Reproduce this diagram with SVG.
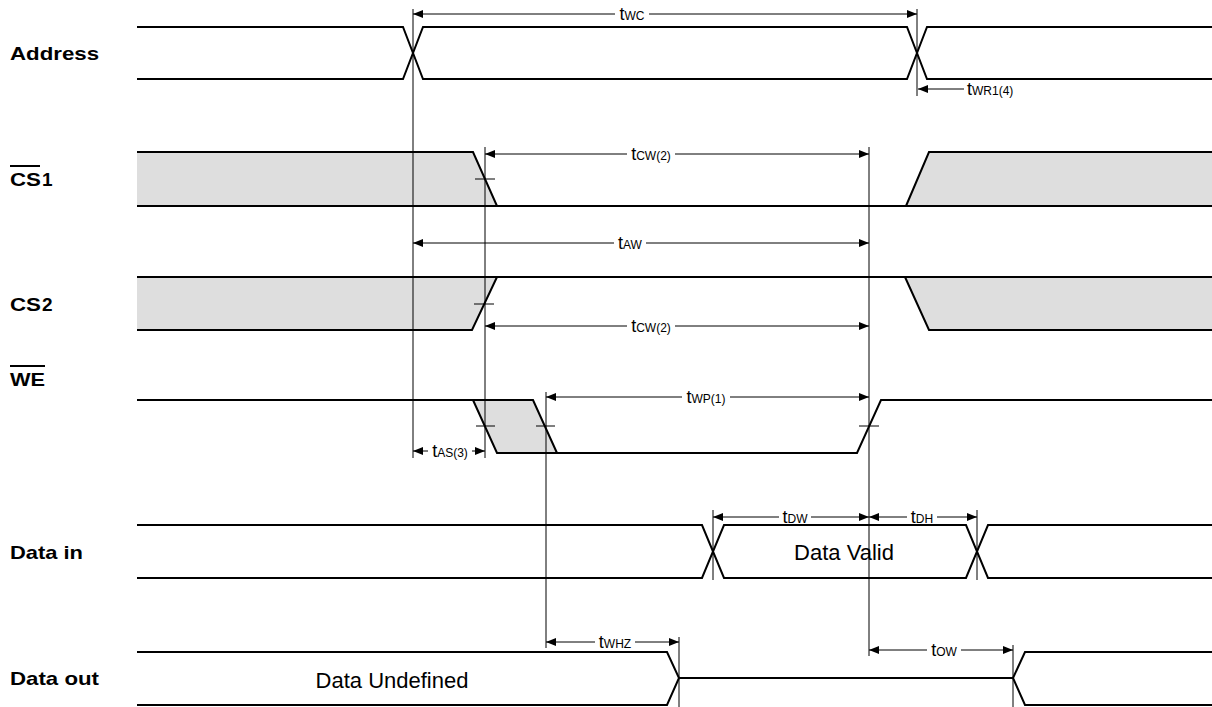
<svg xmlns="http://www.w3.org/2000/svg" width="1212" height="707" viewBox="0 0 1212 707">
<style>
.sig{fill:none;stroke:#000;stroke-width:2;stroke-linejoin:miter}
.gray{fill:#dedede;stroke:none}
.v{stroke:#000;stroke-width:1;fill:none}
.dimE{stroke:#000;stroke-width:1;fill:none;marker-end:url(#ae)}
.lbl{font-family:"Liberation Sans",Arial,sans-serif;font-weight:bold;font-size:19px;fill:#000}
.t{font-family:"Liberation Sans",Arial,sans-serif;font-size:18px;fill:#000}
.s{font-size:12px}
.txt{font-family:"Liberation Sans",Arial,sans-serif;font-size:22px;fill:#000}
.tk{stroke:#000;stroke-width:1}
</style>
<defs>
<marker id="ae" markerWidth="10" markerHeight="8" refX="10" refY="4" orient="auto" markerUnits="userSpaceOnUse"><path d="M0,0 L10,4 L0,8 Z" fill="#000"/></marker>
</defs>
<g id="labels">
<text class="lbl" x="10" y="60" textLength="89" lengthAdjust="spacingAndGlyphs">Address</text>
<text class="lbl" x="10" y="186" textLength="31" lengthAdjust="spacingAndGlyphs">CS</text>
<text class="lbl" x="42" y="186" font-size="15">1</text>
<line x1="10" y1="166" x2="40" y2="166" stroke="#000" stroke-width="2"/>
<text class="lbl" x="10" y="311" textLength="31" lengthAdjust="spacingAndGlyphs">CS</text>
<text class="lbl" x="42" y="311" font-size="15">2</text>
<text class="lbl" x="10" y="386" textLength="35" lengthAdjust="spacingAndGlyphs">WE</text>
<line x1="10" y1="366" x2="45" y2="366" stroke="#000" stroke-width="2"/>
<text class="lbl" x="10" y="559" textLength="73" lengthAdjust="spacingAndGlyphs">Data in</text>
<text class="lbl" x="10" y="685" textLength="89" lengthAdjust="spacingAndGlyphs">Data out</text>
</g>
<g id="address">
<path class="sig" d="M137,27 H403 L423,79 H907 L927,27 H1212"/>
<path class="sig" d="M137,79 H403 L423,27 H907 L927,79 H1212"/>
</g>
<g id="cs1">
<polygon class="gray" points="137,152 473,152 497,206 137,206"/>
<polygon class="gray" points="906,206 929,152 1212,152 1212,206"/>
<path class="sig" d="M137,152 H473 L497,206"/>
<path class="sig" d="M137,206 H1212"/>
<path class="sig" d="M906,206 L929,152 H1212"/>
</g>
<g id="cs2">
<polygon class="gray" points="137,277 497,277 472,330 137,330"/>
<polygon class="gray" points="905,277 1212,277 1212,330 929,330"/>
<path class="sig" d="M137,277 H1212"/>
<path class="sig" d="M137,330 H472 L497,277"/>
<path class="sig" d="M905,277 L929,330 H1212"/>
</g>
<g id="we">
<polygon class="gray" points="473,400 533,400 557,453 497,453"/>
<path class="sig" d="M137,400 H533 L557,453"/>
<path class="sig" d="M473,400 L497,453 H857 L881,400 H1212"/>
</g>
<g id="datain">
<path class="sig" d="M137,525 H702 L724,578 H966 L988,525 H1212"/>
<path class="sig" d="M137,578 H702 L724,525 H966 L988,578 H1212"/>
<text class="txt" x="844" y="560" text-anchor="middle">Data Valid</text>
</g>
<g id="dataout">
<path class="sig" d="M137,652 H667 L679,678 L667,705 H137"/>
<path class="sig" d="M679,678 H1013"/>
<path class="sig" d="M1212,652 H1025 L1013,678 L1025,705 H1212"/>
<text class="txt" x="392" y="688" text-anchor="middle">Data Undefined</text>
</g>
<g id="connectors">
<line class="v" x1="413" y1="9" x2="413" y2="458"/>
<line class="v" x1="917" y1="9" x2="917" y2="96"/>
<line class="v" x1="485" y1="147" x2="485" y2="458"/>
<line class="v" x1="869" y1="147" x2="869" y2="656"/>
<line class="v" x1="546" y1="392" x2="546" y2="648"/>
<line class="v" x1="713" y1="510" x2="713" y2="580"/>
<line class="v" x1="977" y1="510" x2="977" y2="580"/>
<line class="v" x1="679" y1="637" x2="679" y2="707"/>
<line class="v" x1="1013" y1="645" x2="1013" y2="707"/>
<line class="tk" x1="475" y1="179" x2="495" y2="179"/>
<line class="tk" x1="474" y1="304" x2="494" y2="304"/>
<line class="tk" x1="476" y1="426" x2="495" y2="426"/>
<line class="tk" x1="536" y1="426" x2="555" y2="426"/>
<line class="tk" x1="859" y1="426" x2="879" y2="426"/>
<path class="dimE" d="M615,14 H413"/>
<path class="dimE" d="M649,14 H917"/>
<path class="dimE" d="M964,89 H918"/>
<path class="dimE" d="M627,154 H485"/>
<path class="dimE" d="M675,154 H869"/>
<path class="dimE" d="M614,243 H413"/>
<path class="dimE" d="M646,243 H869"/>
<path class="dimE" d="M627,326 H485"/>
<path class="dimE" d="M675,326 H869"/>
<path class="dimE" d="M682,397 H546"/>
<path class="dimE" d="M730,397 H869"/>
<path class="dimE" d="M428,451 H413"/>
<path class="dimE" d="M472,451 H485"/>
<path class="dimE" d="M779,517 H713"/>
<path class="dimE" d="M811,517 H869"/>
<path class="dimE" d="M907,517 H869"/>
<path class="dimE" d="M937,517 H977"/>
<path class="dimE" d="M595,642 H546"/>
<path class="dimE" d="M635,642 H679"/>
<path class="dimE" d="M927,650 H869"/>
<path class="dimE" d="M961,650 H1013"/>
</g>
<g id="timing-labels">
<text class="t" x="632" y="20" text-anchor="middle">t<tspan class="s">WC</tspan></text>
<text class="t" x="967" y="95">t<tspan class="s">WR1(4)</tspan></text>
<text class="t" x="651" y="160" text-anchor="middle">t<tspan class="s">CW(2)</tspan></text>
<text class="t" x="630" y="249" text-anchor="middle">t<tspan class="s">AW</tspan></text>
<text class="t" x="651" y="332" text-anchor="middle">t<tspan class="s">CW(2)</tspan></text>
<text class="t" x="706" y="403" text-anchor="middle">t<tspan class="s">WP(1)</tspan></text>
<text class="t" x="450" y="457" text-anchor="middle">t<tspan class="s">AS(3)</tspan></text>
<text class="t" x="795" y="523" text-anchor="middle">t<tspan class="s">DW</tspan></text>
<text class="t" x="922" y="523" text-anchor="middle">t<tspan class="s">DH</tspan></text>
<text class="t" x="615" y="648" text-anchor="middle">t<tspan class="s">WHZ</tspan></text>
<text class="t" x="944" y="656" text-anchor="middle">t<tspan class="s">OW</tspan></text>
</g>
</svg>
